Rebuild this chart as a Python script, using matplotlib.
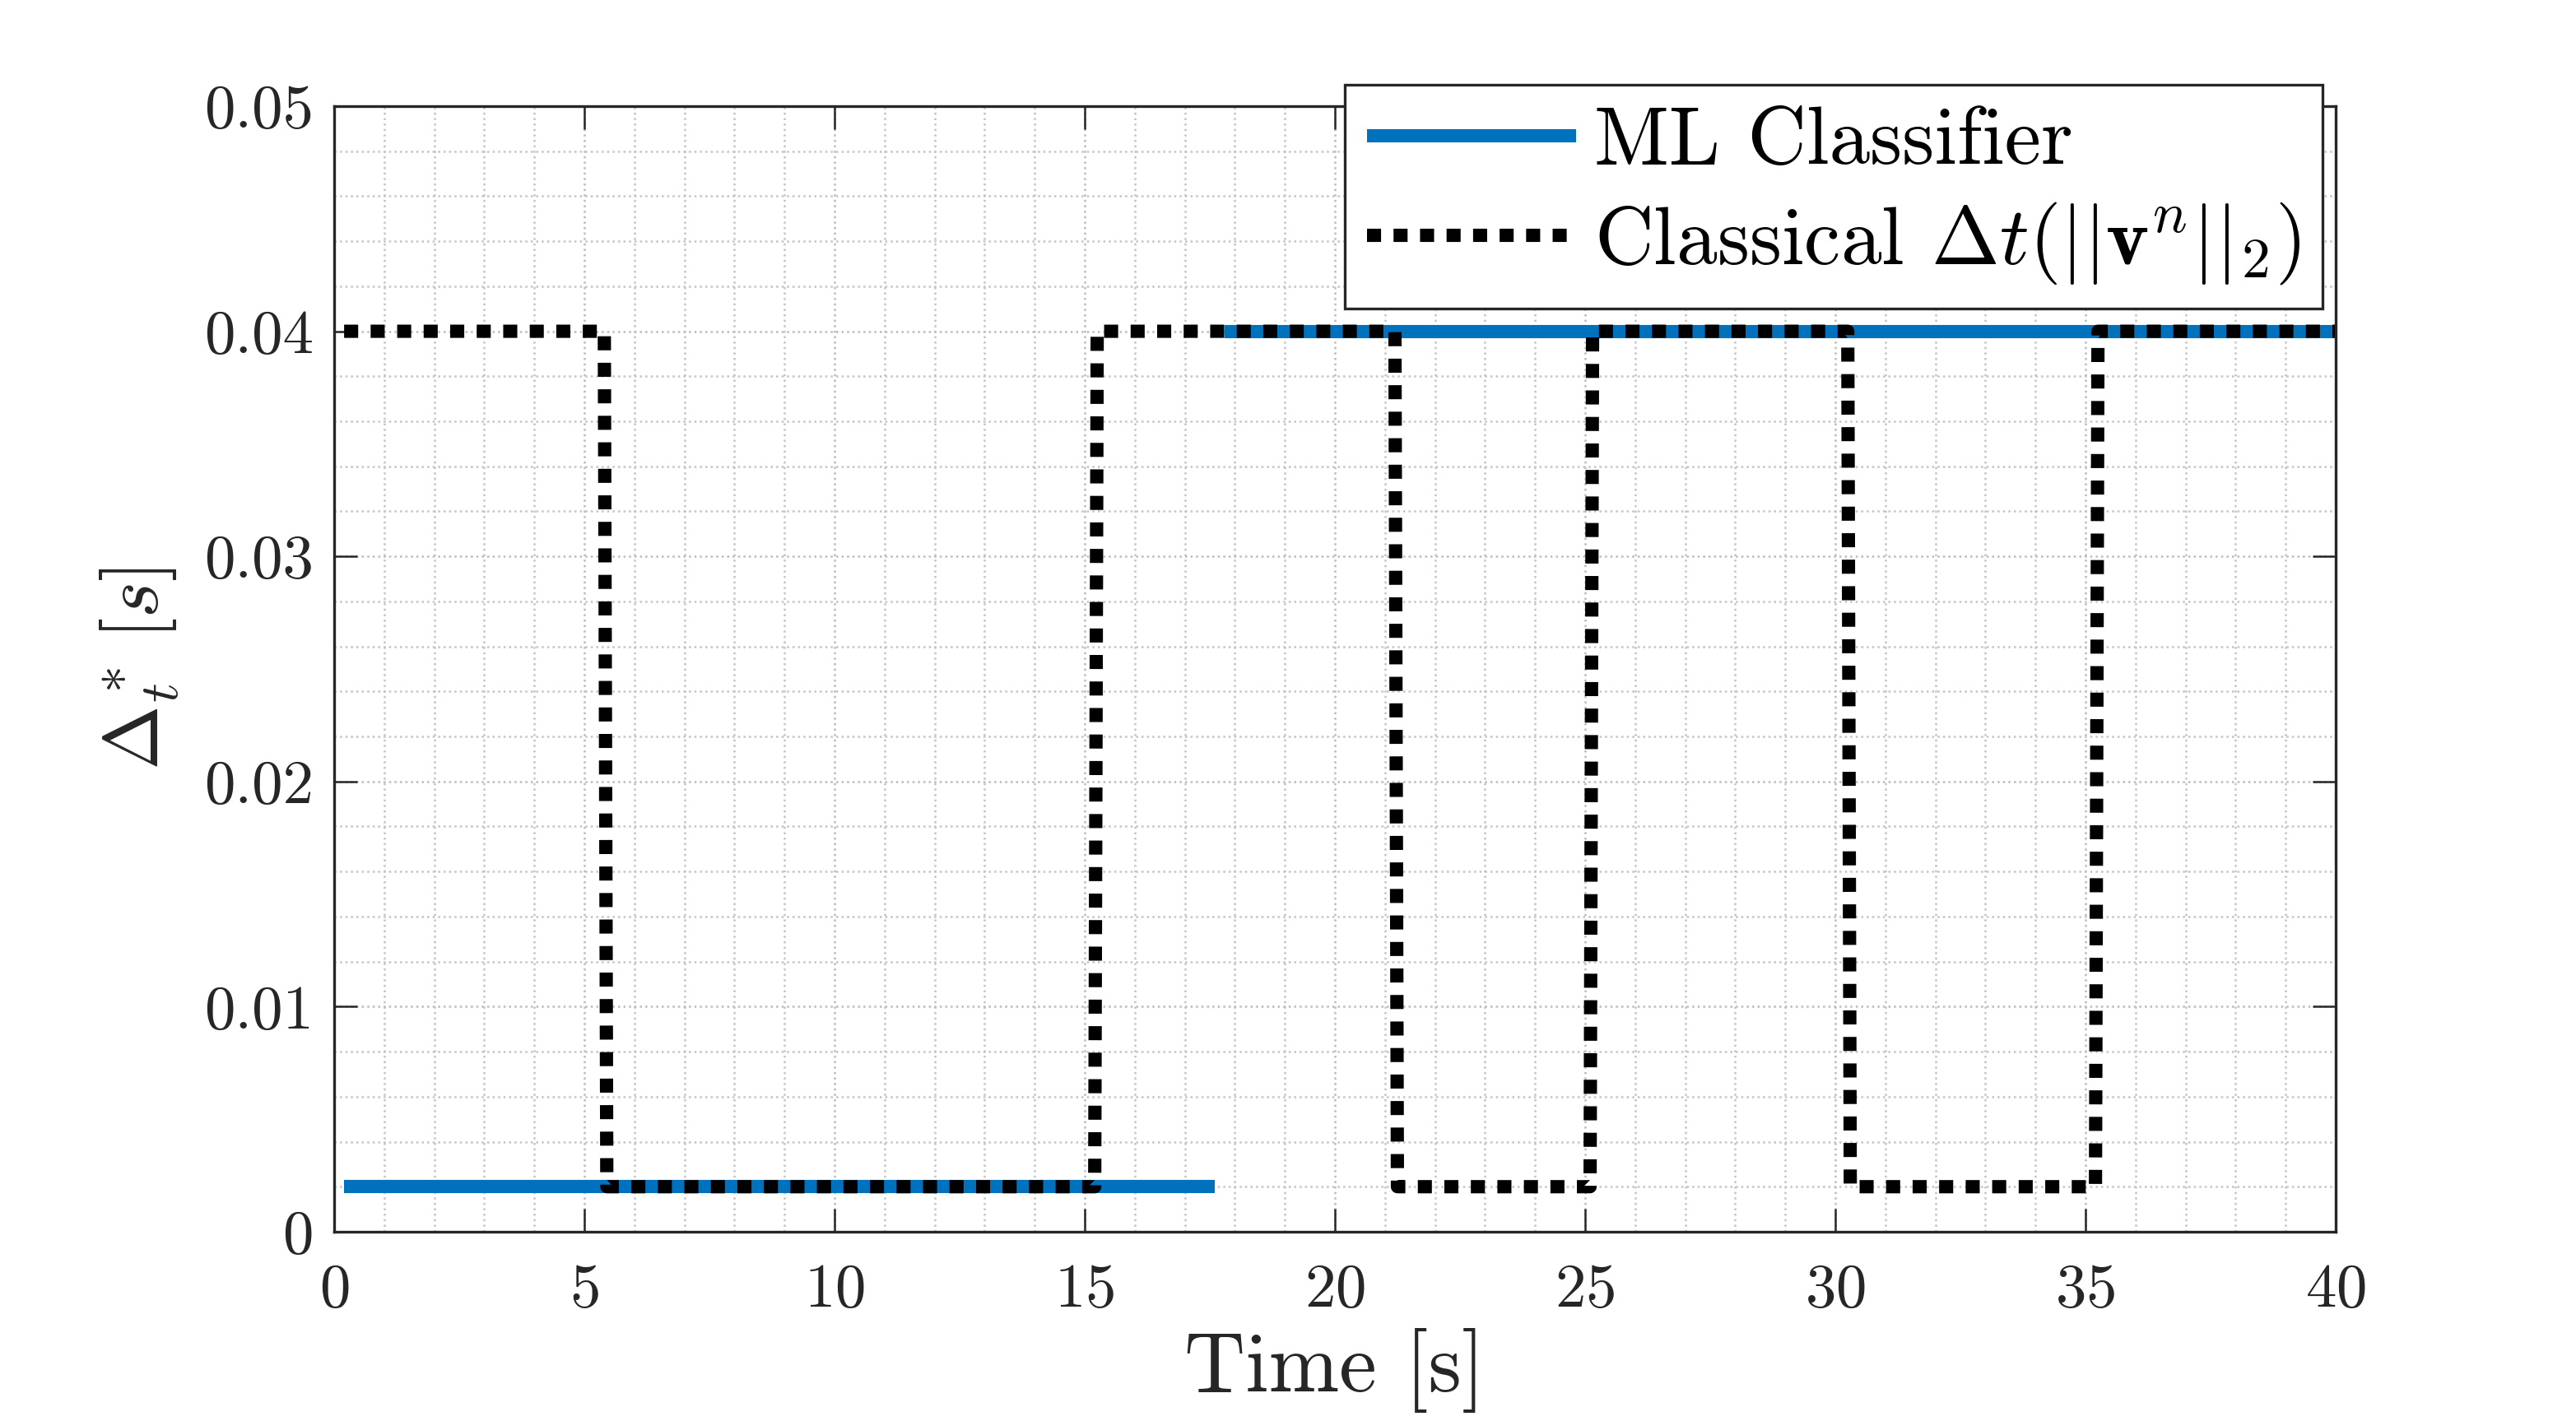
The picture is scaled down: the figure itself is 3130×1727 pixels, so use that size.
import numpy as np
import matplotlib
matplotlib.use("Agg")
import matplotlib.pyplot as plt
from matplotlib.ticker import MultipleLocator, FixedLocator, FixedFormatter

plt.rcParams['font.family'] = ['cmr10', 'DejaVu Serif']
plt.rcParams['mathtext.fontset'] = 'cm'
plt.rcParams['axes.formatter.use_mathtext'] = True

# ML classifier: two flat pieces, no vertical jump drawn
ml_t1 = [0.2, 17.6]
ml_v1 = [0.002, 0.002]
ml_t2 = [17.8, 40.0]
ml_v2 = [0.04, 0.04]

# classical step size, switching on |v|
cl_t = [0.2, 5.4, 5.45, 15.2, 15.25, 21.2, 21.25, 25.1, 25.15, 30.25, 30.3, 35.2, 35.25, 40.0]
cl_v = [0.04, 0.04, 0.002, 0.002, 0.04, 0.04, 0.002, 0.002, 0.04, 0.04, 0.002, 0.002, 0.04, 0.04]

x_ticks = [0, 5, 10, 15, 20, 25, 30, 35, 40]
y_ticks = [0, 0.01, 0.02, 0.03, 0.04, 0.05]
y_tick_labels = ['0', '0.01', '0.02', '0.03', '0.04', '0.05']

blue = '#0072BD'
edge = '#262626'

fig = plt.figure(figsize=(15.65, 8.635), dpi=200)
ax = fig.add_axes([0.1297, 0.1332, 0.777, 0.7921])

ax.plot(ml_t1, ml_v1, color=blue, lw=5.8, solid_capstyle='butt', label='ML Classifier')
ax.plot(ml_t2, ml_v2, color=blue, lw=5.8, solid_capstyle='butt')
ax.plot(cl_t, cl_v, color='black', lw=5.8, dashes=(1.06, 0.94), dash_capstyle='butt',
        label=r'Classical $\Delta t(||\mathbf{v}^n||_2)$')

ax.set_xlim(0, 40)
ax.set_ylim(0, 0.05)
ax.xaxis.set_major_locator(FixedLocator(x_ticks))
ax.yaxis.set_major_locator(FixedLocator(y_ticks))
ax.yaxis.set_major_formatter(FixedFormatter(y_tick_labels))
ax.xaxis.set_minor_locator(MultipleLocator(1))
ax.yaxis.set_minor_locator(MultipleLocator(0.002))

ax.grid(which='major', ls=':', color='#bbbbbb', lw=0.9)
ax.grid(which='minor', ls=':', color='#c4c4c4', lw=0.9)
ax.set_axisbelow(True)

ax.tick_params(which='major', direction='in', length=10, width=0.9, colors=edge,
               top=True, right=True, labelsize=27)
ax.tick_params(axis='x', pad=14)
ax.tick_params(axis='y', pad=9)
ax.tick_params(which='minor', length=0)
for s in ax.spines.values():
    s.set_color(edge)
    s.set_linewidth(1.2)

ax.set_xlabel('Time [s]', fontsize=37, color=edge, labelpad=4)
ax.set_ylabel(r'$\Delta^*_t\,[s]$', fontsize=34, color=edge, labelpad=10)

leg = ax.legend(loc='upper right', bbox_to_anchor=(0.9015, 0.9404),
                bbox_transform=fig.transFigure, fontsize=35.8, frameon=True,
                fancybox=False, handlelength=2.55, handletextpad=0.22,
                borderpad=0.27, labelspacing=0.25, borderaxespad=0)
leg.get_frame().set_edgecolor(edge)
leg.get_frame().set_linewidth(1.2)
leg.get_frame().set_alpha(1)

fig.savefig('out.png', dpi=200, facecolor='white')
